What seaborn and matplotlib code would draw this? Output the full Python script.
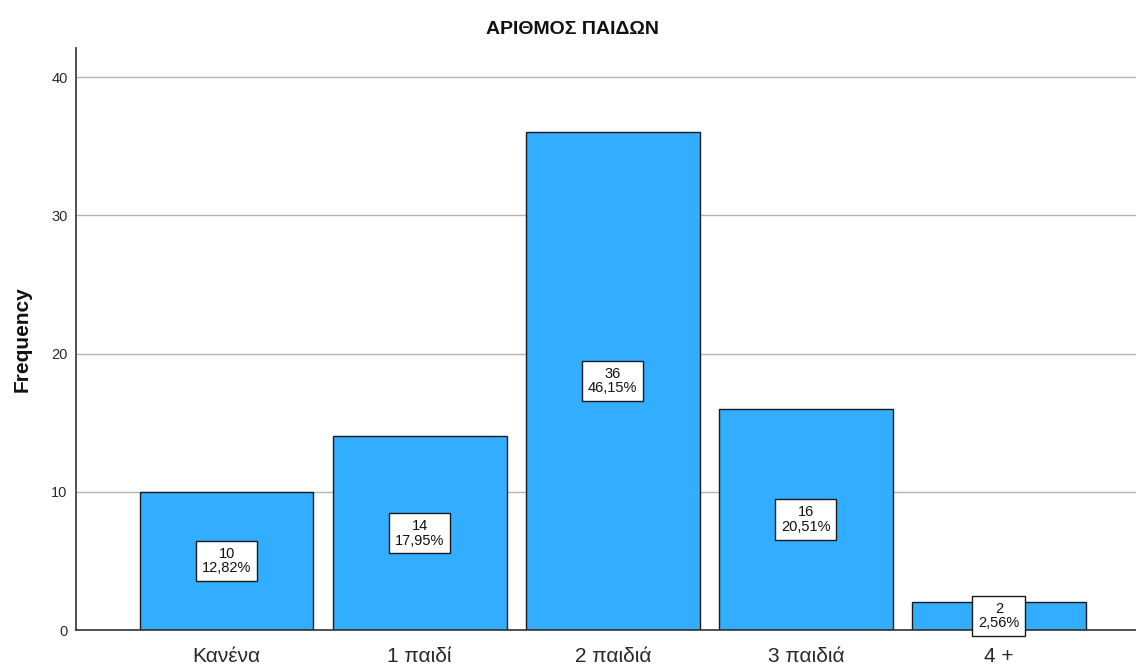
import matplotlib
matplotlib.use("Agg")
import matplotlib.pyplot as plt
import seaborn as sns
import pandas as pd

categories = ["Κανένα", "1 παιδί", "2 παιδιά", "3 παιδιά", "4 +"]
counts = [10, 14, 36, 16, 2]
percents = ["12,82%", "17,95%", "46,15%", "20,51%", "2,56%"]
y_ticks = [0, 10, 20, 30, 40]

sns.set_style("white")
plt.rcParams["font.family"] = ["Liberation Sans", "DejaVu Sans"]

df = pd.DataFrame({"category": categories, "count": counts})

fig = plt.figure(figsize=(11.36, 6.64), dpi=100)
ax = fig.add_axes([76 / 1136, 34 / 664, 1 - 76 / 1136, (630 - 48) / 664])

ax.yaxis.grid(True, color="#b4b4b4", linewidth=1.0)
ax.set_axisbelow(True)

sns.barplot(data=df, x="category", y="count", order=categories,
            color="#33adff", saturation=1, width=0.9,
            edgecolor="#1a1a1a", linewidth=1.0, ax=ax)

# count / percentage box in the middle of each bar
for i, (c, p) in enumerate(zip(counts, percents)):
    ax.text(i, c / 2, f"{c}\n{p}", ha="center", va="center", fontsize=10.5,
            linespacing=1.05, color="#111111",
            bbox=dict(boxstyle="square,pad=0.4", facecolor="white",
                      edgecolor="#1a1a1a", linewidth=1.0))

ax.set_xlim(-0.78, 4.71)
ax.set_ylim(0, 42.1)
ax.set_yticks(y_ticks)
ax.tick_params(axis="y", labelsize=10.5, length=0, pad=6,
               labelcolor="#2a2a2a")
ax.tick_params(axis="x", labelsize=15, length=0, pad=12, labelcolor="#2a2a2a")

for side in ["top", "right"]:
    ax.spines[side].set_visible(False)
for side in ["left", "bottom"]:
    ax.spines[side].set_color("#333333")
    ax.spines[side].set_linewidth(1.2)

ax.set_xlabel("")
ax.set_ylabel("Frequency", fontsize=15, fontweight="bold", labelpad=14,
              color="#111111")
fig.text(572 / 1136, 1 - 30 / 664, "ΑΡΙΘΜΟΣ ΠΑΙΔΩΝ", ha="center",
         va="center", fontsize=14, fontweight="bold", color="#111111")

fig.savefig("out.png", dpi=100)
